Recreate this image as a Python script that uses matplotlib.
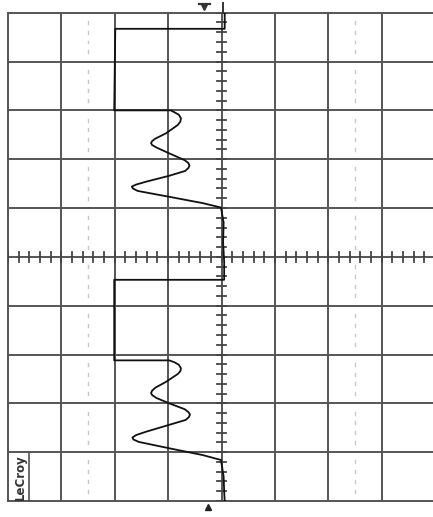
import numpy as np
import matplotlib
matplotlib.use("Agg")
import matplotlib.pyplot as plt

# Screen is 8 divisions wide (amplitude) by 10 divisions tall (time, running downward).
N_AMP_DIV = 8
N_TIME_DIV = 10

# Trace: time (div from top) and amplitude (div from centre)
trace_t = [
    0.00, 0.33, 0.33, 2.00, 2.00,
    2.04, 2.09, 2.16, 2.23, 2.30, 2.47, 2.58, 2.63, 2.67, 2.71, 2.76,
    2.88, 3.02, 3.08, 3.13, 3.18, 3.24,
    3.34, 3.46, 3.52, 3.56, 3.60, 3.65, 3.77, 3.90, 3.99,
    4.30, 4.70, 5.10, 5.47, 5.47, 7.12, 7.12,
    7.16, 7.21, 7.28, 7.34, 7.40, 7.56, 7.68, 7.74, 7.79, 7.83, 7.89,
    8.00, 8.12, 8.18, 8.23, 8.28, 8.34,
    8.44, 8.58, 8.65, 8.70, 8.74, 8.79, 8.92, 9.06, 9.16,
    9.50, 9.80, 10.00,
]
trace_v = [
    0.06, 0.06, -1.99, -2.01, -0.95,
    -0.88, -0.80, -0.76, -0.77, -0.82, -1.04, -1.24, -1.30, -1.32, -1.30, -1.22,
    -0.98, -0.69, -0.62, -0.60, -0.62, -0.68,
    -0.98, -1.41, -1.60, -1.68, -1.66, -1.57, -0.98, -0.35, -0.01,
    0.04, 0.03, 0.05, 0.05, -2.01, -2.01, -0.98,
    -0.88, -0.80, -0.76, -0.77, -0.82, -1.04, -1.24, -1.30, -1.32, -1.30, -1.22,
    -0.98, -0.69, -0.62, -0.59, -0.61, -0.67,
    -0.98, -1.41, -1.60, -1.67, -1.65, -1.55, -0.98, -0.35, -0.01,
    0.04, 0.05, 0.06,
]

# Dotted cursor columns (amplitude, div)
cursor_v = [-2.5, 2.5]

W, H = 433, 517
fig = plt.figure(figsize=(W / 100, H / 100), dpi=100)
fig.patch.set_facecolor("white")

left_px, right_px = 8, 435
top_px, bottom_px = 12.7, 501
ax = fig.add_axes([left_px / W, (H - bottom_px) / H,
                   (right_px - left_px) / W, (bottom_px - top_px) / H])
ax.set_xlim(-N_AMP_DIV / 2, N_AMP_DIV / 2)
ax.set_ylim(N_TIME_DIV, 0)
ax.axis("off")

grid_kw = dict(color="#555555", lw=1.4, clip_on=False, zorder=1)

# major grid
for v in np.arange(-N_AMP_DIV / 2, N_AMP_DIV / 2 + 1):
    ax.plot([v, v], [0, N_TIME_DIV], **grid_kw)
for t in np.arange(0, N_TIME_DIV + 1):
    ax.plot([-N_AMP_DIV / 2, N_AMP_DIV / 2], [t, t], **grid_kw)

# minor ticks on the centre axes
for t in np.arange(0, N_TIME_DIV + 0.01, 0.2):
    ax.plot([-0.08, 0.08], [t, t], color="#444444", lw=1.3, zorder=1)
for v in np.arange(-N_AMP_DIV / 2, N_AMP_DIV / 2 + 0.01, 0.2):
    ax.plot([v, v], [N_TIME_DIV / 2 - 0.1, N_TIME_DIV / 2 + 0.1],
            color="#444444", lw=1.3, zorder=1)

# dotted cursor columns
for v in cursor_v:
    dots_t = [t for t in np.arange(0.2, N_TIME_DIV, 0.2)
              if abs(t - round(t)) > 0.05]
    for t in dots_t:
        ax.plot([v, v], [t - 0.03, t + 0.03], color="#c8c8c8", lw=1.0, zorder=1)

# the waveform
ax.plot(trace_v, trace_t, color="#111111", lw=1.3, zorder=3,
        solid_joinstyle="round")

# screen markers outside the graticule
ax.plot([0.02, 0.02], [-0.2, 0.0], color="#333333", lw=1.4, clip_on=False)
ax.plot([-0.32], [-0.12], marker="v", ms=5, color="#333333", clip_on=False)
ax.plot([-0.42, -0.22], [-0.17, -0.17], color="#333333", lw=1.6, clip_on=False)
ax.plot([-0.26], [10.12], marker="^", ms=5, color="#222222", clip_on=False)

# instrument label
ax.text(-3.76, 9.52, "LeCroy", rotation=90, ha="center", va="center",
        fontsize=8.5, fontweight="bold", color="#333333")
ax.plot([-3.60, -3.60], [9.02, 9.99], color="#444444", lw=1.1)

fig.savefig("out.png", dpi=100, facecolor="white")
